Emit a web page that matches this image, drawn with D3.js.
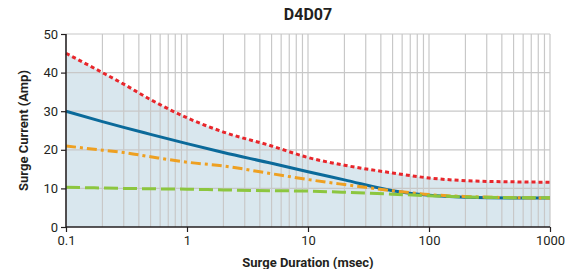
<!DOCTYPE html>
<html>
<head>
<meta charset="utf-8">
<script src="https://cdn.jsdelivr.net/npm/d3@7"></script>
<style>
  body { margin: 0; background: #fff; }
  svg text { font-family: "Roboto", "Liberation Sans", sans-serif; fill: #231f20; }
</style>
</head>
<body>
<div id="chart"></div>
<script>
// data
var duration = [0.1, 0.2, 0.3, 0.5, 1, 2, 5, 10, 20, 50, 100, 200, 500, 1000];
var redLimit = [45, 40, 37, 33, 28.3, 24.6, 21, 18, 16, 14, 12.7, 12, 11.7, 11.6];
var blueCurve = [30, 27.3, 25.8, 24, 21.6, 19.3, 16.5, 14.3, 12.2, 9.4, 8.2, 7.7, 7.5, 7.5];
var orangeCurve = [21, 19.9, 19.3, 18.2, 16.8, 15.8, 13.8, 12.3, 11, 9.4, 8.4, 7.9, 7.6, 7.5];
var greenCurve = [10.3, 10.1, 10, 9.9, 9.8, 9.6, 9.4, 9.3, 9, 8.5, 8.1, 7.8, 7.6, 7.6];
var xTicks = [0.1, 1, 10, 100, 1000];
var yTicks = [0, 10, 20, 30, 40, 50];

var margin = {top: 34, right: 17, bottom: 42, left: 66},
    width = 567 - margin.left - margin.right,
    height = 269 - margin.top - margin.bottom;

var svg = d3.select("#chart")
            .append("svg")
              .attr("width", 567)
              .attr("height", 269);

var chart = svg.append("g")
               .attr("transform", "translate(" + margin.left + "," + margin.top + ")");

// scales
var x = d3.scaleLog().domain([0.1, 1000]).range([0, width]);
var y = d3.scaleLinear().domain([0, 50]).range([height, 0]);

function series(vals) {
  return duration.map(function(d, i) { return {x: d, y: vals[i]}; });
}

// shaded area under the upper curve
var area = d3.area()
             .curve(d3.curveMonotoneX)
             .x(function(d) { return x(d.x); })
             .y0(y(0))
             .y1(function(d) { return y(d.y); });

chart.append("path")
     .datum(series(redLimit))
     .attr("d", area)
     .attr("fill", "#d9e7ee");

// grid
var minor = x.ticks();
chart.append("g")
     .selectAll("line")
     .data(minor)
   .enter().append("line")
     .attr("x1", function(d) { return x(d); })
     .attr("x2", function(d) { return x(d); })
     .attr("y1", 0)
     .attr("y2", height)
     .attr("stroke", "#c8c8c8")
     .attr("stroke-width", 1.2);

chart.append("g")
     .selectAll("line")
     .data(yTicks.slice(1))
   .enter().append("line")
     .attr("x1", 0)
     .attr("x2", width)
     .attr("y1", function(d) { return y(d); })
     .attr("y2", function(d) { return y(d); })
     .attr("stroke", "#c8c8c8")
     .attr("stroke-width", 1.2);

// curves
var line = d3.line()
             .curve(d3.curveMonotoneX)
             .x(function(d) { return x(d.x); })
             .y(function(d) { return y(d.y); });

chart.append("path")
     .datum(series(redLimit))
     .attr("d", line)
     .attr("fill", "none")
     .attr("stroke", "#e8262b")
     .attr("stroke-width", 3)
     .attr("stroke-dasharray", "4,3");

chart.append("path")
     .datum(series(blueCurve))
     .attr("d", line)
     .attr("fill", "none")
     .attr("stroke", "#0b6a9a")
     .attr("stroke-width", 3);

chart.append("path")
     .datum(series(orangeCurve))
     .attr("d", line)
     .attr("fill", "none")
     .attr("stroke", "#eea021")
     .attr("stroke-width", 3)
     .attr("stroke-dasharray", "10,4,3,4");

chart.append("path")
     .datum(series(greenCurve))
     .attr("d", line)
     .attr("fill", "none")
     .attr("stroke", "#8cc63f")
     .attr("stroke-width", 3)
     .attr("stroke-dasharray", "14,5");

// axes
var xAxis = d3.axisBottom(x).tickValues(xTicks).tickSize(5).tickPadding(4)
              .tickFormat(function(d) { return d3.format("")(d); });
var gx = chart.append("g")
              .attr("transform", "translate(0," + height + ")")
              .call(xAxis);

var yAxis = d3.axisLeft(y).tickValues(yTicks).tickSize(5).tickPadding(3);
var gy = chart.append("g").call(yAxis);

[gx, gy].forEach(function(g) {
  g.select(".domain").attr("stroke", "#231f20").attr("stroke-width", 1.5);
  g.selectAll(".tick line").attr("stroke", "#231f20").attr("stroke-width", 1.2);
  g.selectAll(".tick text").attr("font-size", 13).attr("fill", "#231f20");
});
gx.select(".domain").attr("d", "M0,0H" + width);
gy.select(".domain").attr("d", "M0," + height + "V0");

// titles
svg.append("text")
   .attr("x", margin.left + width / 2)
   .attr("y", 20)
   .attr("text-anchor", "middle")
   .attr("font-size", 16)
   .attr("font-weight", "bold")
   .text("D4D07");

svg.append("text")
   .attr("x", margin.left + width / 2)
   .attr("y", 267)
   .attr("text-anchor", "middle")
   .attr("font-size", 13)
   .attr("font-weight", "bold")
   .text("Surge Duration (msec)");

svg.append("text")
   .attr("transform", "translate(28," + (margin.top + height / 2) + ") rotate(-90)")
   .attr("text-anchor", "middle")
   .attr("font-size", 13)
   .attr("font-weight", "bold")
   .text("Surge Current (Amp)");
</script>
</body>
</html>
